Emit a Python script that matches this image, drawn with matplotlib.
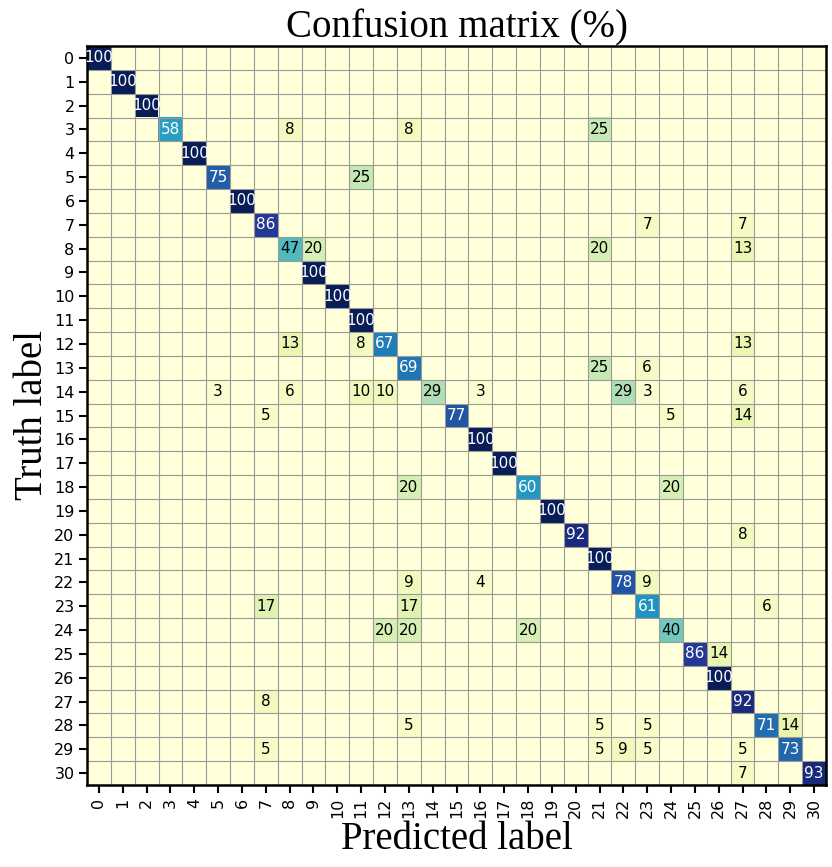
import numpy as np
import matplotlib
matplotlib.use("Agg")
import matplotlib.pyplot as plt

n_classes = 31
labels = [str(i) for i in range(n_classes)]

diag_values = [100, 100, 100, 58, 100, 75, 100, 86, 47, 100, 100, 100, 67, 69, 29, 77,
               100, 100, 60, 100, 92, 100, 78, 61, 40, 86, 100, 92, 71, 73, 93]

# off-diagonal entries: (truth, predicted, percent)
off_rows = [3, 3, 3, 5, 7, 7, 8, 8, 8, 12, 12, 12, 13, 13,
            14, 14, 14, 14, 14, 14, 14, 14,
            15, 15, 15, 18, 18, 20, 22, 22, 22, 23, 23, 23,
            24, 24, 24, 25, 27, 28, 28, 28, 28,
            29, 29, 29, 29, 29, 30]
off_cols = [8, 13, 21, 11, 23, 27, 9, 21, 27, 8, 11, 27, 21, 23,
            5, 8, 11, 12, 16, 22, 23, 27,
            7, 24, 27, 13, 24, 27, 13, 16, 23, 7, 13, 28,
            12, 13, 18, 26, 7, 13, 21, 23, 29,
            7, 21, 22, 23, 27, 27]
off_vals = [8, 8, 25, 25, 7, 7, 20, 20, 13, 13, 8, 13, 25, 6,
            3, 6, 10, 10, 3, 29, 3, 6,
            5, 5, 14, 20, 20, 8, 9, 4, 9, 17, 17, 6,
            20, 20, 20, 14, 8, 5, 5, 5, 14,
            5, 5, 9, 5, 5, 7]

cm = np.zeros((n_classes, n_classes))
for i, v in enumerate(diag_values):
    cm[i, i] = v
for r, c, v in zip(off_rows, off_cols, off_vals):
    cm[r, c] = v

fig = plt.figure(figsize=(8.32, 8.67), dpi=100)
ax = fig.add_axes([87/832, 1 - 785/867, 739/832, 739/867])

ax.imshow(cm, cmap="YlGnBu", vmin=0, vmax=100, interpolation="nearest", aspect="auto")

for i in range(n_classes):
    for j in range(n_classes):
        v = cm[i, j]
        if v > 0:
            ax.text(j, i, f"{int(v)}", ha="center", va="center", fontsize=11,
                    color="white" if v > 50 else "black", family="DejaVu Sans")

ax.set_xticks(np.arange(n_classes))
ax.set_yticks(np.arange(n_classes))
ax.set_xticklabels(labels, rotation=90, fontsize=11.5)
ax.set_yticklabels(labels, fontsize=11.5)
ax.set_xticks(np.arange(-0.5, n_classes, 1), minor=True)
ax.set_yticks(np.arange(-0.5, n_classes, 1), minor=True)
ax.grid(which="minor", color="#999999", linewidth=0.8)
ax.tick_params(which="minor", length=0)
ax.tick_params(which="major", length=6, width=1.5, pad=3)
for s in ax.spines.values():
    s.set_linewidth(1.8)
ax.set_xlim(-0.5, n_classes - 0.5)
ax.set_ylim(n_classes - 0.5, -0.5)

serif = ["Liberation Serif", "DejaVu Serif"]
ax.set_title("Confusion matrix (%)", fontsize=28, family=serif, pad=4)
ax.set_xlabel("Predicted label", fontsize=28, family=serif, labelpad=2)
ax.set_ylabel("Truth label", fontsize=28, family=serif, labelpad=2)

fig.savefig("out.png", dpi=100)
